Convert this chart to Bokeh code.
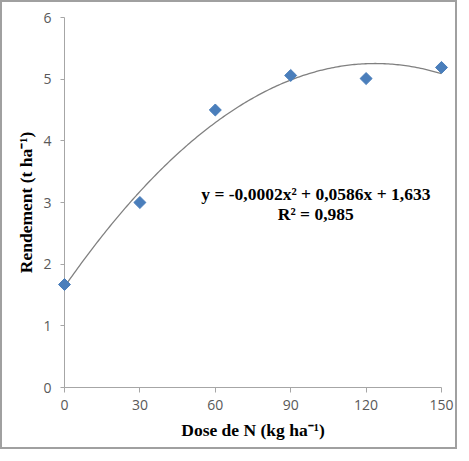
import numpy as np
from bokeh.plotting import figure
from bokeh.models import Range1d, FixedTicker, Label
from bokeh.embed import file_html
from bokeh.resources import INLINE

# Data
dose = [0, 30, 60, 90, 120, 150]
rendement = [1.67, 3.00, 4.50, 5.06, 5.01, 5.19]
x_ticks = [0, 30, 60, 90, 120, 150]
y_ticks = [0, 1, 2, 3, 4, 5, 6]
equation = "y = -0,0002x\u00b2 + 0,0586x + 1,633"
r2_text = "R\u00b2 = 0,985"

W, H = 457, 449
p = figure(width=W, height=H, output_backend="svg", toolbar_location=None,
           x_range=Range1d(0, 150), y_range=Range1d(0, 6),
           min_border_left=62, min_border_right=18, min_border_top=15,
           min_border_bottom=64,
           styles={"border": "2px solid #a0a0a0"})
p.outline_line_color = None
p.xgrid.visible = False
p.ygrid.visible = False

# trend line (quadratic fit of the data)
coef = np.polyfit(dose, rendement, 2)
xs = np.linspace(0, 150, 200)
p.line(xs, np.polyval(coef, xs), line_color="#808080", line_width=1.3)

p.scatter(dose, rendement, marker="square", angle=np.pi / 4, size=8.5,
          fill_color="#4a7ebb", line_color="#4a7ebb", level="overlay")

axis_col = "#a6a6a6"
tick_font = "Open Sans"
for ax in (p.xaxis[0], p.yaxis[0]):
    ax.axis_line_color = axis_col
    ax.major_tick_line_color = axis_col
    ax.minor_tick_line_color = None
    ax.major_tick_in = 0
    ax.major_label_text_color = "#595959"
    ax.major_label_text_font = tick_font
    ax.major_label_text_font_size = "14px"
    ax.axis_label_text_font = "Liberation Serif"
    ax.axis_label_text_font_style = "bold"
    ax.axis_label_text_font_size = "17.5px"
    ax.axis_label_text_color = "#000000"

p.xaxis.ticker = FixedTicker(ticks=x_ticks)
p.xaxis.major_tick_out = 5
p.xaxis.major_label_standoff = 7
p.xaxis.axis_label = "Dose de N (kg ha\u207b\u00b9)"
p.xaxis.axis_label_standoff = 7

p.yaxis.ticker = FixedTicker(ticks=y_ticks)
p.yaxis.major_tick_out = 4
p.yaxis.major_label_standoff = 9
p.yaxis.axis_label = "Rendement (t ha\u207b\u00b9)"
p.yaxis.axis_label_standoff = 4

for txt, yy in ((equation, 3.13), (r2_text, 2.81)):
    p.add_layout(Label(x=100, y=yy, text=txt, text_align="center", text_baseline="middle",
                       text_font="Liberation Serif", text_font_style="bold",
                       text_font_size="17.5px", text_color="#000000"))

open("out.html", "w").write(file_html(p, INLINE))
